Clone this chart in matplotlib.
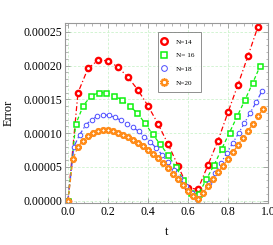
import numpy as np
import matplotlib
matplotlib.use("Agg")
import matplotlib.pyplot as plt
from matplotlib.ticker import MultipleLocator, FormatStrFormatter

# ---- data (values in units of 1e-4) ----
t14 = [k / 20 for k in range(20)]
e14 = [0.0, 1.60, 1.96, 2.08, 2.075, 1.98, 1.83, 1.64, 1.405, 1.14,
       0.84, 0.52, 0.19, 0.17, 0.53, 0.89, 1.31, 1.72, 2.145, 2.58]

t16 = [k / 26 for k in range(26)]
e16 = [0.0, 1.13, 1.41, 1.553, 1.60, 1.60, 1.553, 1.494, 1.405, 1.30,
       1.149, 0.985, 0.835, 0.68, 0.50, 0.31, 0.12, 0.10, 0.32, 0.53,
       0.77, 1.01, 1.25, 1.49, 1.74, 2.00]

t18 = [k / 34 for k in range(34)]
e18 = [0.0, 0.80, 0.98, 1.12, 1.20, 1.25, 1.27, 1.265, 1.235, 1.19,
       1.14, 1.09, 1.03, 0.95, 0.87, 0.78, 0.68, 0.57, 0.45, 0.33,
       0.22, 0.11, 0.02, 0.11, 0.26, 0.41, 0.557, 0.705, 0.853, 1.00,
       1.149, 1.306, 1.46, 1.63]

t20 = [k / 40 for k in range(40)]
e20 = [0.0, 0.62, 0.80, 0.89, 0.96, 1.00, 1.03, 1.045, 1.045, 1.035,
       1.01, 0.98, 0.945, 0.905, 0.86, 0.81, 0.755, 0.695, 0.63, 0.555,
       0.48, 0.40, 0.32, 0.235, 0.15, 0.07, 0.02, 0.12, 0.22, 0.32,
       0.42, 0.52, 0.62, 0.72, 0.825, 0.93, 1.035, 1.14, 1.25, 1.36]

labels = ["N=14", "N= 16", "N=18", "N=20"]
x_ticks = [0.0, 0.2, 0.4, 0.6, 0.8, 1.0]
y_ticks = [0.0, 0.00005, 0.00010, 0.00015, 0.00020, 0.00025]

scale = 1e-4
plt.rcParams['font.family'] = ['Liberation Serif', 'DejaVu Serif']

fig = plt.figure(figsize=(2.73, 2.45), dpi=100)
ax = fig.add_axes([0.238, 0.1714, 0.7436, 0.7367])

red = (1.0, 0.0, 0.0)
green = (0.05, 0.95, 0.05)
blue = (0.3, 0.3, 1.0)
orange = (1.0, 0.55, 0.1)

h1, = ax.plot(t14, np.array(e14) * scale, color=red, lw=0.9, ls=(0, (4, 2, 1, 2)),
              marker='o', ms=3.8, mfc='white', mec=red, mew=1.7, label=labels[0])
h2, = ax.plot(t16, np.array(e16) * scale, color=green, lw=0.9, ls=(0, (3, 2)),
              marker='s', ms=3.6, mfc='white', mec=green, mew=1.1, label=labels[1])
h3, = ax.plot(t18, np.array(e18) * scale, color=blue, lw=0.9, ls=(0, (4, 2, 1, 2)),
              marker='o', ms=3.3, mfc='white', mec=blue, mew=0.7, label=labels[2])
h4, = ax.plot(t20, np.array(e20) * scale, color=orange, lw=0.9, ls=(0, (3, 2)),
              marker=(10, 1, 0), ms=4.8, mfc='white', mec=orange, mew=1.1, label=labels[3])

ax.set_xlim(-0.015, 1.0)
ax.set_ylim(-0.0000034, 0.000264)

ax.set_xticks(x_ticks)
ax.set_yticks(y_ticks)
ax.xaxis.set_minor_locator(MultipleLocator(0.04))
ax.yaxis.set_minor_locator(MultipleLocator(0.00001))
ax.xaxis.set_major_formatter(FormatStrFormatter('%.1f'))
ax.yaxis.set_major_formatter(FormatStrFormatter('%.5f'))

ax.grid(True, which='major', color=(0.8, 0.95, 0.8), ls=(0, (3, 2)), lw=0.6)
ax.set_axisbelow(True)

frame_col = (0.6, 0.6, 0.6)
for s in ax.spines.values():
    s.set_color(frame_col)
    s.set_linewidth(0.8)
ax.tick_params(which='both', direction='in', top=True, right=True,
               color=frame_col, labelsize=8.5, labelcolor='black', pad=2)
ax.tick_params(which='major', length=3.5, width=0.6)
ax.tick_params(which='minor', length=1.8, width=0.5)

ax.set_xlabel('t', fontsize=9, labelpad=6)
ax.set_ylabel('Error', fontsize=9, labelpad=6)

leg = ax.legend(handles=[h1, h2, h3, h4], loc='upper left',
                bbox_to_anchor=(0.458, 0.947), fontsize=5.2, frameon=True,
                fancybox=False, edgecolor=(0.45, 0.45, 0.45), handlelength=0.0,
                handletextpad=1.6, borderpad=0.9, labelspacing=1.05,
                markerscale=1.25, borderaxespad=0)
leg.get_frame().set_linewidth(0.7)

fig.savefig('out.png', dpi=100)
